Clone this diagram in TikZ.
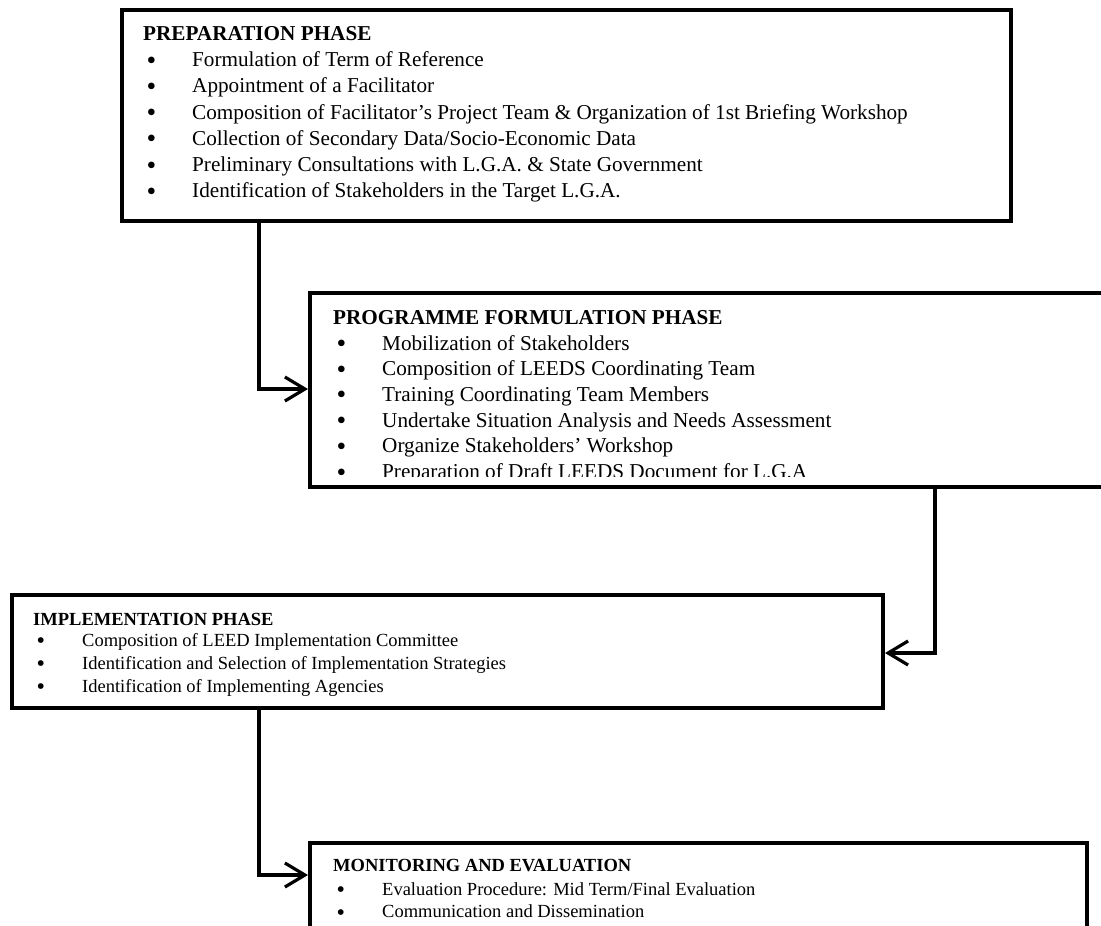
\documentclass[tikz,border=0pt]{standalone}
\usepackage{fontspec}
\usepackage{graphicx}
\setmainfont{Liberation Serif}
\usetikzlibrary{arrows.meta}
\newcommand\phbul{\makebox[49pt][l]{\hspace{3.5pt}\raisebox{-0.12em}{\scalebox{1.3}{\textbullet}}}}
\begin{document}
\begin{tikzpicture}[x=1pt,y=-1pt,
  phase/.style={draw=black, line width=4pt, rectangle, anchor=north west, inner sep=0pt},
  conn/.style={draw=black, line width=3.2pt, -{Straight Barb[length=20pt,width=24pt,line width=3.2pt]}},
  hbig/.style={anchor=base west, inner sep=0pt, font=\fontsize{21.2}{26}\selectfont\bfseries},
  ibig/.style={anchor=base west, inner sep=0pt, font=\fontsize{21.2}{26}\selectfont},
  hsmall/.style={anchor=base west, inner sep=0pt, font=\fontsize{18.5}{23}\selectfont\bfseries},
  ismall/.style={anchor=base west, inner sep=0pt, font=\fontsize{18.5}{23}\selectfont}
]
\clip (0,0) rectangle (1101,926);
\fill[white] (0,0) rectangle (1101,926);

% boxes
\node[phase, minimum width=889pt, minimum height=211pt] (p1) at (120,8) {};
\node[phase, minimum width=810pt, minimum height=194pt] (p2) at (308,291) {};
\node[phase, minimum width=871pt, minimum height=113pt] (p3) at (10,593) {};
\node[phase, minimum width=777pt, minimum height=127pt] (p4) at (308,841) {};

% box 1 text
\node[hbig] (p1t) at (143,40.7) {PREPARATION PHASE};
\foreach \txt [count=\i] in {Formulation of Term of Reference,
  Appointment of a Facilitator,
  Composition of Facilitator’s Project Team \& Organization of 1st Briefing Workshop,
  Collection of Secondary Data/Socio-Economic Data,
  Preliminary Consultations with L.G.A. \& State Government,
  Identification of Stakeholders in the Target L.G.A.}
  \node[ibig] (p1i\i) at (143,{66.7+26.25*(\i-1)}) {\phbul\txt};

% box 2 text
\begin{scope}
\clip (310,293) rectangle (1101,476.5);
\node[hbig] (p2t) at (333,324) {PROGRAMME FORMULATION PHASE};
\foreach \txt [count=\i] in {Mobilization of Stakeholders,
  Composition of LEEDS Coordinating Team,
  Training Coordinating Team Members,
  Undertake Situation Analysis and Needs Assessment,
  Organize Stakeholders’ Workshop,
  Preparation of Draft LEEDS Document for L.G.A}
  \node[ibig] (p2i\i) at (333,{350+25.7*(\i-1)}) {\phbul\txt};
\end{scope}

% box 3 text
\node[hsmall] (p3t) at (33,625) {IMPLEMENTATION PHASE};
\foreach \txt [count=\i] in {Composition of LEED Implementation Committee,
  Identification and Selection of Implementation Strategies,
  Identification of Implementing Agencies}
  \node[ismall] (p3i\i) at (33,{646+23.3*(\i-1)}) {\phbul\txt};

% box 4 text
\node[hsmall] (p4t) at (333,871.7) {MONITORING AND EVALUATION};
\foreach \txt [count=\i] in {Evaluation Procedure: Mid Term/Final Evaluation,
  Communication and Dissemination}
  \node[ismall] (p4i\i) at (333,{895+22.8*(\i-1)}) {\phbul\txt};

% connectors
\coordinate (k1) at (259,0);
\coordinate (j1) at (0,389);
\coordinate (k2) at (935,0);
\coordinate (j2) at (0,653);
\coordinate (j3) at (0,875);
\draw[conn] (p1.south -| k1) |- (p2.west |- j1);
\draw[conn] (p2.south -| k2) |- (p3.east |- j2);
\draw[conn] (p3.south -| k1) |- (p4.west |- j3);
\end{tikzpicture}
\end{document}
